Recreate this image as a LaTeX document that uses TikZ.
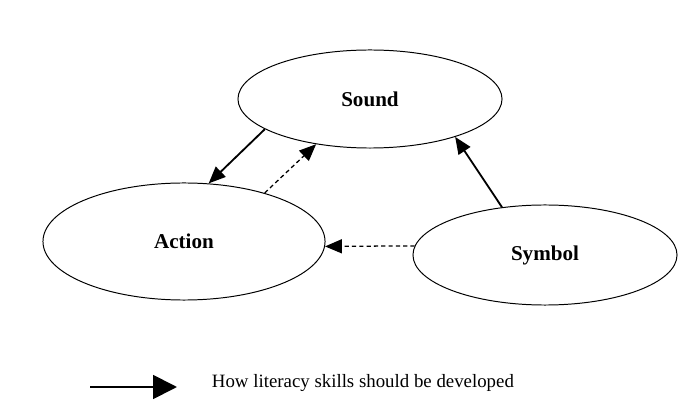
\documentclass[tikz,border=0pt]{standalone}
\usepackage{tikz}
\usetikzlibrary{arrows.meta, shapes.geometric}
\usepackage{fontspec}
\setmainfont{Liberation Serif}

\tikzset{
  skill/.style = {draw, ellipse, line width=0.7pt, inner sep=0pt, font=\fontsize{15}{18}\selectfont\bfseries},
  develop/.style = {line width=1.3pt, -{Triangle[length=12pt, width=10pt]}},
  link/.style = {line width=0.9pt, dash pattern=on 3pt off 2.2pt, -{Triangle[length=12pt, width=10pt]}},
}

\begin{document}
\begin{tikzpicture}[x=0.025cm, y=-0.025cm]
\useasboundingbox (0,0) rectangle (678,406);

\node[skill, minimum width=6.6cm, minimum height=2.45cm] (sound) at (370,99){Sound};
\node[skill, minimum width=7.05cm, minimum height=2.925cm] (action) at (184,241.5){Action};
\node[skill, minimum width=6.6cm, minimum height=2.5cm] (symbol) at (545,255){Symbol};

\draw[develop] (sound.196)--(action.67);
\draw[link] (action.31)--(sound.220);
\draw[develop] (symbol.132)--(sound.336);
\draw[link] (symbol.176)--(action.358);

% key
\coordinate (key_start) at (90,387);
\coordinate (key_end) at (177,387);
\draw[line width=1.3pt, -{Triangle[length=17pt, width=17pt]}] (key_start)--(key_end);
\node[anchor=base west, font=\fontsize{13.4}{16}\selectfont] (key_text) at (207,388){How literacy skills should be developed};
\end{tikzpicture}
\end{document}
